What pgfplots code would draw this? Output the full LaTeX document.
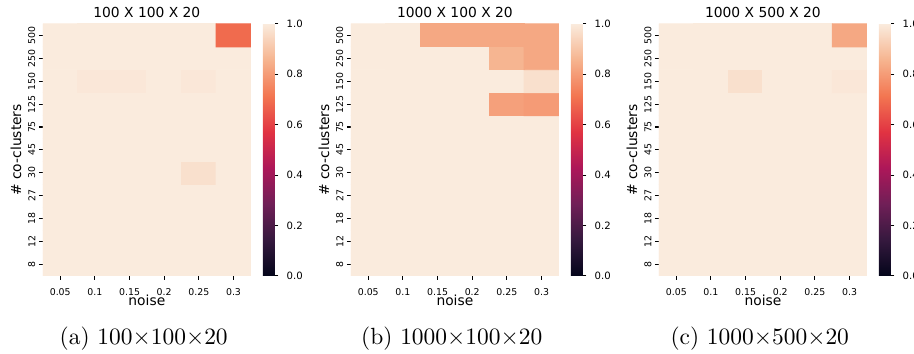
\documentclass[border=0pt]{standalone}
\usepackage{fontspec}
\usepackage{pgfplots}
\pgfplotsset{compat=1.18}
\newfontfamily\dv{DejaVu Sans}
\newcommand\tickf{\dv\fontsize{4.0}{4.5}\selectfont}
\newcommand\cbf{\dv\fontsize{4.3}{5}\selectfont}
\newcommand\labf{\dv\fontsize{5.9}{7}\selectfont}

\pgfplotsset{
 every axis title shift=0pt,
 colormap={rocket}{rgb255=(3,5,26) rgb255=(53,25,62) rgb255=(112,31,87) rgb255=(173,23,89) rgb255=(225,51,66) rgb255=(243,118,81) rgb255=(246,180,143) rgb255=(250,235,221)},
 hm/.style={
  scale only axis, width=88.7pt, height=107.5pt,
  xmin=-0.5,xmax=5.5,ymin=-0.5,ymax=10.5,
  axis line style={draw=none},
  tick align=outside, major tick length=1.7pt,
  tick style={black, line width=0.45pt},
  xtick={0,...,5}, xticklabels={0.05,0.1,0.15,0.2,0.25,0.3},
  ytick={0,...,10}, yticklabels={8,12,18,27,30,45,75,125,150,250,500},
  xtick pos=left, ytick pos=left,
  xticklabel style={font=\tickf},
  yticklabel style={font=\tickf, rotate=90, anchor=south},
  yticklabel shift=-2pt,
  point meta min=0, point meta max=1,
  colormap name=rocket,
  title style={font=\labf, at={(0.5,1.044)}, anchor=center},
  xlabel style={font=\labf, at={(axis description cs:0.5,-0.095)}, anchor=center},
  ylabel style={font=\labf, at={(axis description cs:-0.13,0.5)}, anchor=center},
  xlabel={noise}, ylabel={\# co-clusters},
  colorbar,
  colorbar style={at={(1.058,1)}, anchor=north west, width=5.1pt,
    ytick={0,0.2,0.4,0.6,0.8,1}, yticklabels={0.0,0.2,0.4,0.6,0.8,1.0},
    yticklabel style={font=\cbf}, axis line style={draw=none},
    tick align=outside, major tick length=1.5pt,
    tick style={black, line width=0.45pt},
    ytick pos=right, yticklabel pos=right},
 }
}

\begin{document}
\begin{tikzpicture}
\useasboundingbox (-18.3pt,-33.3pt) rectangle (371.6pt,117.7pt);

\begin{axis}[hm, name=ax1, at={(0pt,0pt)}, anchor=south west, title={100 X 100 X 20}]
\addplot[matrix plot*, mesh/cols=6, point meta=explicit] coordinates {
(0,0)[1] (1,0)[1] (2,0)[1] (3,0)[1] (4,0)[1] (5,0)[1]

(0,1)[1] (1,1)[1] (2,1)[1] (3,1)[1] (4,1)[1] (5,1)[1]

(0,2)[1] (1,2)[1] (2,2)[1] (3,2)[1] (4,2)[1] (5,2)[1]

(0,3)[1] (1,3)[1] (2,3)[1] (3,3)[1] (4,3)[1] (5,3)[1]

(0,4)[1] (1,4)[1] (2,4)[1] (3,4)[1] (4,4)[0.97] (5,4)[1]

(0,5)[1] (1,5)[1] (2,5)[1] (3,5)[1] (4,5)[1] (5,5)[1]

(0,6)[1] (1,6)[1] (2,6)[1] (3,6)[1] (4,6)[1] (5,6)[1]

(0,7)[1] (1,7)[1] (2,7)[1] (3,7)[1] (4,7)[1] (5,7)[1]

(0,8)[1] (1,8)[0.99] (2,8)[0.99] (3,8)[1] (4,8)[0.99] (5,8)[1]

(0,9)[1] (1,9)[1] (2,9)[1] (3,9)[1] (4,9)[1] (5,9)[1]

(0,10)[1] (1,10)[1] (2,10)[1] (3,10)[1] (4,10)[1] (5,10)[0.69]
};
\end{axis}

\begin{axis}[hm, name=ax2, at={(131.4pt,0pt)}, anchor=south west, title={1000 X 100 X 20}]
\addplot[matrix plot*, mesh/cols=6, point meta=explicit] coordinates {
(0,0)[1] (1,0)[1] (2,0)[1] (3,0)[1] (4,0)[1] (5,0)[1]

(0,1)[1] (1,1)[1] (2,1)[1] (3,1)[1] (4,1)[1] (5,1)[1]

(0,2)[1] (1,2)[1] (2,2)[1] (3,2)[1] (4,2)[1] (5,2)[1]

(0,3)[1] (1,3)[1] (2,3)[1] (3,3)[1] (4,3)[1] (5,3)[1]

(0,4)[1] (1,4)[1] (2,4)[1] (3,4)[1] (4,4)[1] (5,4)[1]

(0,5)[1] (1,5)[1] (2,5)[1] (3,5)[1] (4,5)[1] (5,5)[1]

(0,6)[1] (1,6)[1] (2,6)[1] (3,6)[1] (4,6)[1] (5,6)[1]

(0,7)[1] (1,7)[1] (2,7)[1] (3,7)[1] (4,7)[0.81] (5,7)[0.80]

(0,8)[1] (1,8)[1] (2,8)[1] (3,8)[1] (4,8)[1] (5,8)[0.97]

(0,9)[1] (1,9)[1] (2,9)[1] (3,9)[1] (4,9)[0.86] (5,9)[0.83]

(0,10)[1] (1,10)[1] (2,10)[0.83] (3,10)[0.83] (4,10)[0.83] (5,10)[0.83]
};
\end{axis}

\begin{axis}[hm, name=ax3, at={(262.8pt,0pt)}, anchor=south west, title={1000 X 500 X 20}]
\addplot[matrix plot*, mesh/cols=6, point meta=explicit] coordinates {
(0,0)[1] (1,0)[1] (2,0)[1] (3,0)[1] (4,0)[1] (5,0)[1]

(0,1)[1] (1,1)[1] (2,1)[1] (3,1)[1] (4,1)[1] (5,1)[1]

(0,2)[1] (1,2)[1] (2,2)[1] (3,2)[1] (4,2)[1] (5,2)[1]

(0,3)[1] (1,3)[1] (2,3)[1] (3,3)[1] (4,3)[1] (5,3)[1]

(0,4)[1] (1,4)[1] (2,4)[1] (3,4)[1] (4,4)[1] (5,4)[1]

(0,5)[1] (1,5)[1] (2,5)[1] (3,5)[1] (4,5)[1] (5,5)[1]

(0,6)[1] (1,6)[1] (2,6)[1] (3,6)[1] (4,6)[1] (5,6)[1]

(0,7)[1] (1,7)[1] (2,7)[1] (3,7)[1] (4,7)[1] (5,7)[1]

(0,8)[1] (1,8)[1] (2,8)[0.97] (3,8)[1] (4,8)[1] (5,8)[0.99]

(0,9)[1] (1,9)[1] (2,9)[1] (3,9)[1] (4,9)[1] (5,9)[1]

(0,10)[1] (1,10)[1] (2,10)[1] (3,10)[1] (4,10)[1] (5,10)[0.83]
};
\end{axis}

\node[font=\fontsize{10}{12}\selectfont] at ([xshift=43pt,yshift=-26.9pt]ax1.south west) {(a) 100$\times$100$\times$20};
\node[font=\fontsize{10}{12}\selectfont] at ([xshift=43pt,yshift=-26.9pt]ax2.south west) {(b) 1000$\times$100$\times$20};
\node[font=\fontsize{10}{12}\selectfont] at ([xshift=43pt,yshift=-26.9pt]ax3.south west) {(c) 1000$\times$500$\times$20};
\end{tikzpicture}
\end{document}
